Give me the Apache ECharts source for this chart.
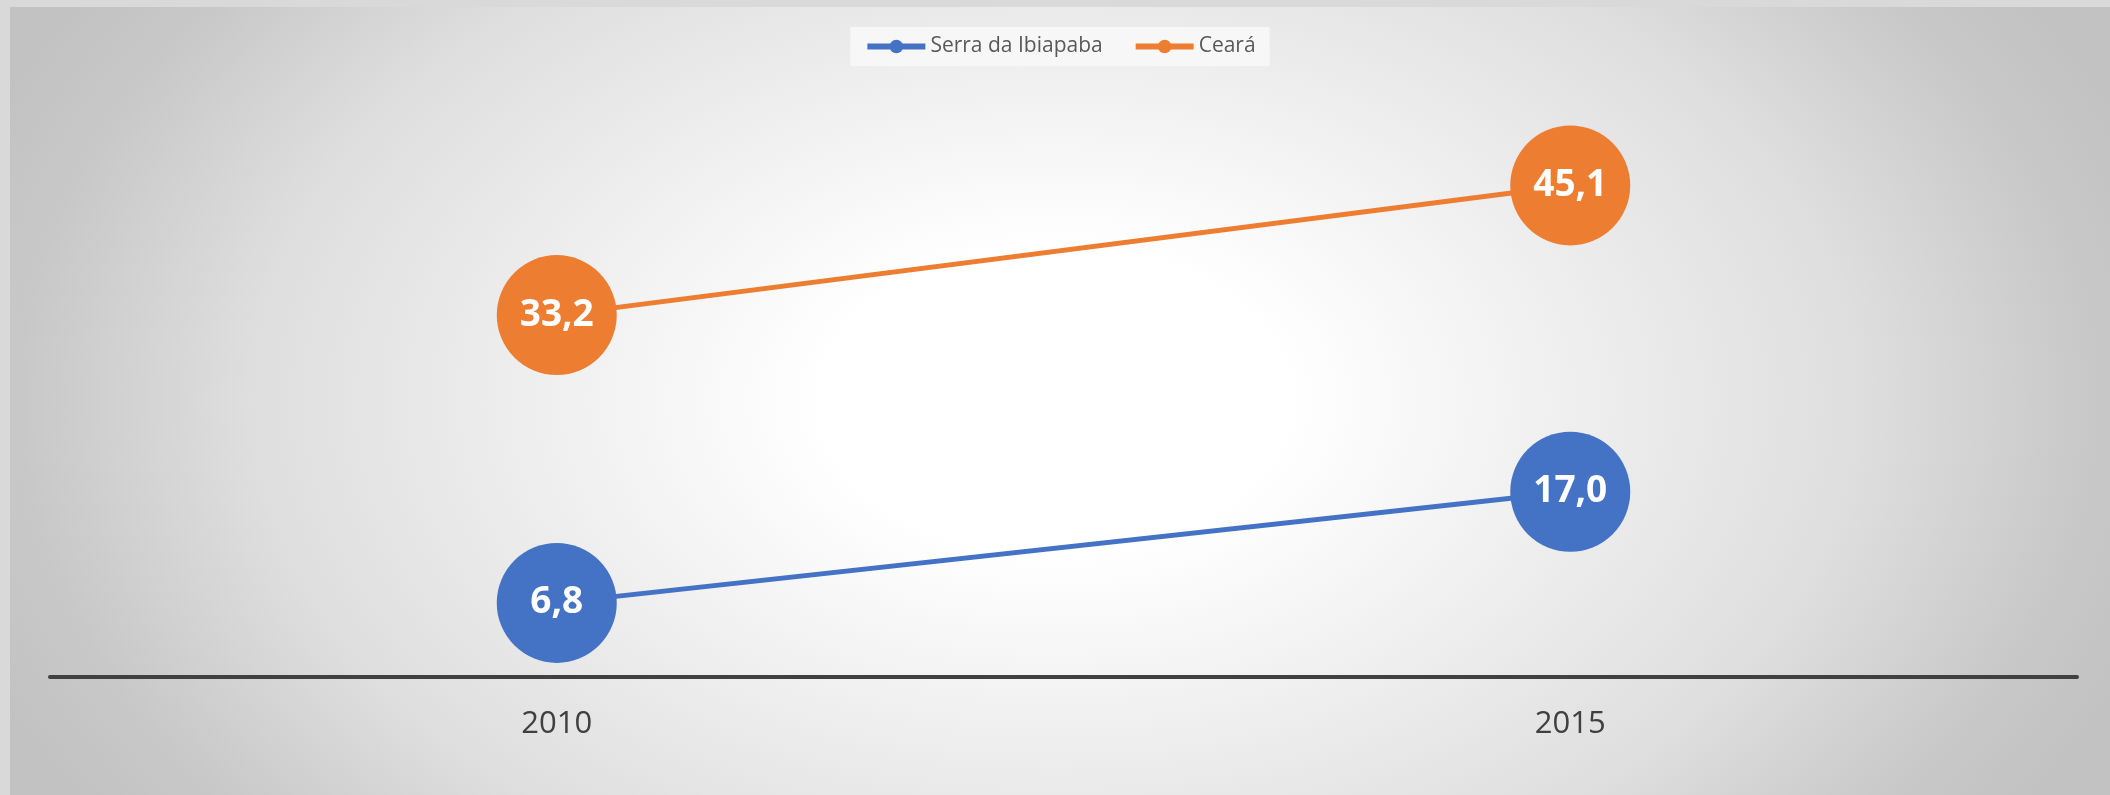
<!DOCTYPE html>
<html>
<head>
<meta charset="utf-8">
<script src="https://cdn.jsdelivr.net/npm/echarts@6/dist/echarts.min.js"></script>
<style>
  html, body { margin: 0; padding: 0; background: #d9d9d9; }
  #chart {
    position: absolute; left: 10px; top: 7px; width: 2100px; height: 788px;
    background: radial-gradient(ellipse 1150px 750px at 1045px 393px, #ffffff 0%, #ffffff 20%, #f0f0f0 43%, #eaeaea 52%, #dedede 70%, #c8c8c8 90%, #c2c2c2 100%);
  }
</style>
</head>
<body>
<div id="chart"></div>
<script>
// --- données --- //
const anos = ['2010', '2015'];
const serraIbiapaba = [6.8, 17.0];
const ceara = [33.2, 45.1];

const fmt = (p) => p.value.toFixed(1).replace('.', ',');

function serie(nome, valores, cor) {
  return {
    name: nome,
    type: 'line',
    data: valores,
    symbol: 'circle',
    symbolSize: 120,
    lineStyle: { width: 5, color: cor },
    itemStyle: { color: cor },
    label: {
      show: true,
      position: 'inside',
      formatter: fmt,
      color: '#ffffff',
      fontSize: 37,
      fontWeight: 'bold',
      fontFamily: 'Open Sans'
    }
  };
}

const chart = echarts.init(document.getElementById('chart'));
chart.setOption({
  backgroundColor: 'transparent',
  animation: false,
  legend: {
    top: 20,
    left: 'center',
    padding: [9, 14],
    backgroundColor: '#f7f7f7',
    itemWidth: 58,
    itemHeight: 17,
    itemGap: 30,
    lineStyle: { width: 6 },
    textStyle: { fontSize: 21, color: '#595959', fontFamily: 'Open Sans' },
    data: ['Serra da Ibiapaba', 'Ceará']
  },
  grid: { left: 40, right: 33, top: 125, bottom: 118 },
  xAxis: {
    type: 'category',
    data: anos,
    axisLine: { lineStyle: { color: '#404040', width: 4 } },
    axisTick: { show: false },
    axisLabel: { fontSize: 31, color: '#404040', margin: 32, fontFamily: 'Open Sans' }
  },
  yAxis: {
    type: 'value',
    min: 0,
    max: 50,
    show: false,
    splitLine: { show: false }
  },
  series: [
    serie('Serra da Ibiapaba', serraIbiapaba, '#4472c4'),
    serie('Ceará', ceara, '#ed7d31')
  ]
});
</script>
</body>
</html>
